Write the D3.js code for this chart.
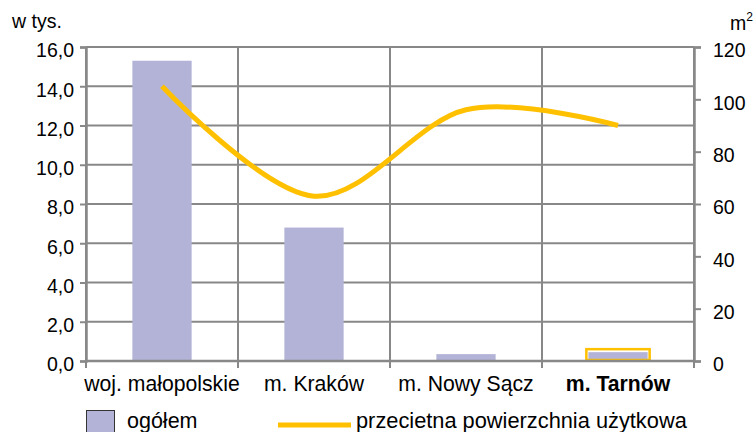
<!DOCTYPE html>
<html><head><meta charset="utf-8">
<script src="https://cdn.jsdelivr.net/npm/d3@7"></script>
<style>body{margin:0;background:#fff}svg{display:block}text{font-family:"Liberation Sans",Arial,sans-serif;fill:#000}</style>
</head><body><svg id="c" width="756" height="432"></svg>
<script>
const categories = ["woj. małopolskie","m. Kraków","m. Nowy Sącz","m. Tarnów"];
const ogolem = [15.3, 6.8, 0.35, 0.45];
const powierzchnia = [105, 63, 96, 90];
const leftTicks = [0,2,4,6,8,10,12,14,16];
const rightTicks = [0,20,40,60,80,100,120];
const seriesNames = ["ogółem","przecietna powierzchnia użytkowa"];

const svg = d3.select("#c");
const L=86, R=694, T=47, B=361;
const grid="#888888", barCol="#B3B3D7", lineCol="#FFC000";
const x = d3.scaleBand().domain(categories).range([L,R]).paddingInner(0).paddingOuter(0);
const yL = d3.scaleLinear().domain([0,16]).range([B,T]);
const yR = d3.scaleLinear().domain([0,120]).range([B,T]);

svg.append("g").selectAll("line").data(leftTicks.slice(1)).join("line")
  .attr("x1",L).attr("x2",R).attr("y1",d=>yL(d)).attr("y2",d=>yL(d))
  .attr("stroke",grid).attr("stroke-width",2);
const bounds = categories.map(c=>x(c)).concat([R]);
svg.append("g").selectAll("line").data(bounds).join("line")
  .attr("x1",d=>d).attr("x2",d=>d).attr("y1",T).attr("y2",B+7)
  .attr("stroke",grid).attr("stroke-width",2);

const bw = x.bandwidth()*0.39;
svg.append("g").selectAll("rect").data(ogolem).join("rect")
  .attr("x",(d,i)=>x(categories[i])+x.bandwidth()/2-bw/2)
  .attr("width",bw)
  .attr("y",d=>yL(d)).attr("height",d=>B-yL(d))
  .attr("fill",barCol);
const ti=3;
svg.append("rect")
  .attr("x",x(categories[ti])+x.bandwidth()/2-bw/2-2)
  .attr("width",bw+4)
  .attr("y",yL(ogolem[ti])-3).attr("height",B-yL(ogolem[ti])+2)
  .attr("fill","none").attr("stroke",lineCol).attr("stroke-width",2.5);

svg.append("line").attr("x1",L).attr("x2",R).attr("y1",B).attr("y2",B).attr("stroke",grid).attr("stroke-width",2.5);

const gl = svg.append("g").attr("transform",`translate(${L},0)`)
  .call(d3.axisLeft(yL).tickValues(leftTicks).tickSize(6).tickPadding(6)
    .tickFormat(d=>d3.format(".1f")(d).replace(".",",")));
gl.select(".domain").attr("stroke",grid).attr("stroke-width",2.5);
gl.selectAll(".tick line").attr("stroke",grid).attr("stroke-width",2);
gl.selectAll(".tick text").style("font-size","19.5px").attr("dy","0.5em");

const gr = svg.append("g").attr("transform",`translate(${R},0)`)
  .call(d3.axisRight(yR).tickValues(rightTicks).tickSize(7).tickPadding(12));
gr.select(".domain").attr("stroke",grid).attr("stroke-width",2.5);
gr.selectAll(".tick line").attr("stroke",grid).attr("stroke-width",2);
gr.selectAll(".tick text").style("font-size","19.5px").attr("dy","0.5em");

svg.append("g").selectAll("text").data(categories).join("text")
  .attr("x",d=>x(d)+x.bandwidth()/2).attr("y",391)
  .attr("text-anchor","middle").style("font-size","21.2px")
  .style("font-weight",(d,i)=>i===3?"bold":"normal").text(d=>d);

const line = d3.line().x((d,i)=>x(categories[i])+x.bandwidth()/2).y(d=>yR(d))
  .curve(d3.curveCatmullRom.alpha(0));
svg.append("path").datum(powierzchnia).attr("d",line)
  .attr("fill","none").attr("stroke",lineCol).attr("stroke-width",5);

svg.append("text").attr("x",12).attr("y",28).style("font-size","19.5px").text("w tys.");
const m2 = svg.append("text").attr("x",730).attr("y",30).style("font-size","19.5px");
m2.append("tspan").text("m");
m2.append("tspan").attr("dy","-9").style("font-size","12px").text("2");

svg.append("rect").attr("x",86.5).attr("y",410.5).attr("width",28).attr("height",28)
  .attr("fill",barCol).attr("stroke","#333").attr("stroke-width",1);
svg.append("text").attr("x",127).attr("y",428).style("font-size","21.5px").text(seriesNames[0]);
svg.append("line").attr("x1",278).attr("x2",351).attr("y1",425).attr("y2",425)
  .attr("stroke",lineCol).attr("stroke-width",5);
svg.append("text").attr("x",356).attr("y",428).style("font-size","21.8px").text(seriesNames[1]);
</script></body></html>
